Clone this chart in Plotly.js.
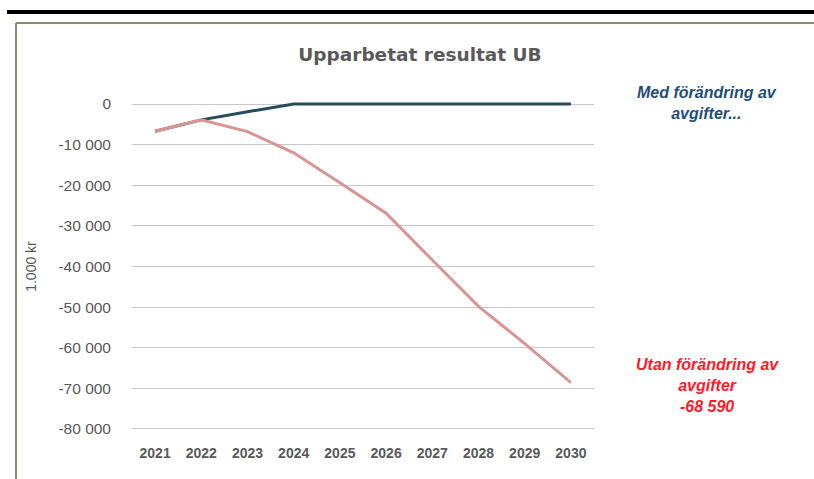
<!DOCTYPE html>
<html>
<head>
<meta charset="utf-8">
<script src="https://cdn.plot.ly/plotly-3.0.1.min.js"></script>
<style>html,body{margin:0;padding:0;background:#fff;}#chart{width:814px;height:479px;}</style>
</head>
<body>
<div id="chart"></div>
<script>
const years = ["2021","2022","2023","2024","2025","2026","2027","2028","2029","2030"];
const medForandring = [-6700, -3900, -1900, 0, 0, 0, 0, 0, 0, 0];
const utanForandring = [-6700, -3900, -6800, -12000, -19400, -26900, -38400, -49800, -59000, -68590];
const yTicks = [0, -10000, -20000, -30000, -40000, -50000, -60000, -70000, -80000];
const yTickText = ["0", "-10 000", "-20 000", "-30 000", "-40 000", "-50 000", "-60 000", "-70 000", "-80 000"];

const L = 132, T = 102, W = 462, H = 329;
const px = v => (v - L) / W;
const py = v => (T + H - v) / H;

const traces = [
  {x: years, y: medForandring, type: 'scatter', mode: 'lines', line: {color: '#264b5b', width: 3}, hoverinfo: 'skip'},
  {x: years, y: utanForandring, type: 'scatter', mode: 'lines', line: {color: '#d99594', width: 3}, hoverinfo: 'skip'}
];

const layout = {
  width: 814, height: 479,
  margin: {l: L, r: 814 - L - W, t: T, b: 479 - T - H},
  paper_bgcolor: '#ffffff', plot_bgcolor: '#ffffff',
  showlegend: false,
  title: {text: '<b>Upparbetat resultat UB</b>', x: 420/814, xanchor: 'center', y: 1 - 55/479, yanchor: 'middle', yref: 'container',
    font: {family: 'DejaVu Sans', size: 18.5, color: '#595959'}},
  xaxis: {type: 'category', range: [-0.5, 9.5], showgrid: false, zeroline: false, showline: false, ticks: '',
    tickfont: {family: 'Liberation Sans', size: 14, color: '#595959', weight: 'bold'}, ticklabelstandoff: 12, fixedrange: true},
  yaxis: {range: [-80500, 500], tickvals: yTicks, ticktext: yTickText, showgrid: true, gridcolor: '#c8c8c8', gridwidth: 1,
    zeroline: false, showline: false, ticks: '', ticklabelstandoff: 20,
    tickfont: {family: 'Liberation Sans', size: 15.5, color: '#595959'},
    title: {text: '1.000 kr', font: {family: 'Liberation Sans', size: 14, color: '#595959'}, standoff: 18}, fixedrange: true},
  annotations: [
    {xref: 'paper', yref: 'paper', x: px(707), y: py(103), xanchor: 'center', yanchor: 'middle', showarrow: false,
      text: '<b><i>Med förändring av<br>avgifter...</i></b>', align: 'center',
      font: {family: 'Liberation Sans', size: 16, color: '#1f4e79'}},
    {xref: 'paper', yref: 'paper', x: px(707), y: py(385), xanchor: 'center', yanchor: 'middle', showarrow: false,
      text: '<b><i>Utan förändring av<br>avgifter<br>-68 590</i></b>', align: 'center',
      font: {family: 'Liberation Sans', size: 16, color: '#ff1a2a'}}
  ],
  shapes: [
    {type: 'line', xref: 'paper', yref: 'paper', x0: px(7), x1: px(820), y0: py(12), y1: py(12), line: {color: '#000000', width: 4}},
    {type: 'line', xref: 'paper', yref: 'paper', x0: px(16), x1: px(820), y0: py(23), y1: py(23), line: {color: '#8a8a76', width: 2}},
    {type: 'line', xref: 'paper', yref: 'paper', x0: px(16), x1: px(16), y0: py(23), y1: py(490), line: {color: '#8a8a76', width: 2}}
  ]
};

Plotly.newPlot('chart', traces, layout, {staticPlot: true, displayModeBar: false});
</script>
</body>
</html>
